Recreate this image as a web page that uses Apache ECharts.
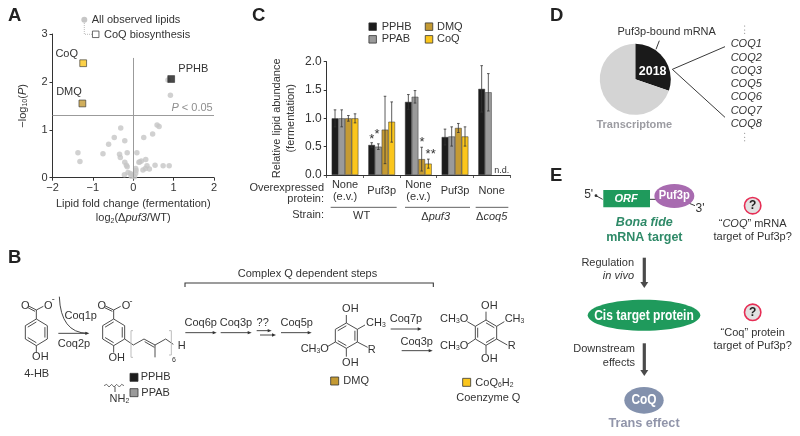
<!DOCTYPE html>
<html><head><meta charset="utf-8"><style>html,body{margin:0;padding:0;background:#fff}#c{width:800px;height:436px}</style>
<script src="https://cdn.jsdelivr.net/npm/echarts@6/dist/echarts.min.js"></script></head>
<body><div id="c"></div>
<script>
// ---- Panel A data: [log2 fold change, -log10 P]
const observedLipids=[[0.92,1.72],[0.86,2.04],[-0.31,1.04],[-0.47,0.84],[-0.61,0.70],[-0.21,0.77],[-1.37,0.52],[-1.32,0.34],[-0.75,0.50],[-0.34,0.49],[-0.32,0.42],[-0.15,0.52],[0.09,0.52],[0.26,0.84],[0.48,0.91],[0.59,1.10],[0.64,1.07],[0.31,0.38],[0.16,0.33],[0.20,0.35],[-0.21,0.32],[-0.17,0.26],[-0.15,0.23],[0.54,0.26],[0.74,0.25],[0.89,0.25],[0.34,0.25],[0.30,0.19],[0.40,0.18],[0.24,0.16],[0.06,0.19],[0.07,0.15],[-0.22,0.06],[-0.13,0.11],[-0.07,0.09],[-0.01,0.06],[0.03,0.02],[-0.05,0.03],[0.06,0.09],[0.14,0.32]];
const coqPoint=[-1.24,2.39], dmqPoint=[-1.26,1.55], pphbPoint=[0.94,2.06];
const significanceLine=1.3;
// ---- Panel C data
const strainCategories=['None\n(e.v.)','Puf3p','None\n(e.v.)','Puf3p','None'];
const seriesNames=['PPHB','PPAB','DMQ','CoQ'];
const pphb=[1.00,0.53,1.29,0.67,1.52], pphbLow=[0.85,0.49,1.16,0.53,1.11], pphbHigh=[1.15,0.57,1.42,0.81,1.93];
const ppab=[1.00,0.50,1.38,0.68,1.46], ppabLow=[0.85,0.45,1.27,0.51,1.13], ppabHigh=[1.15,0.55,1.49,0.85,1.79];
const dmq =[1.00,0.80,0.28,0.83,null], dmqLow =[0.95,0.20,0.07,0.75,null], dmqHigh =[1.05,1.39,0.49,0.91,null];
const coq =[1.00,0.94,0.20,0.68,null], coqLow =[0.92,0.58,0.12,0.51,null], coqHigh =[1.08,1.29,0.28,0.85,null];
// ---- Panel D data
const puf3Bound=2018, otherTranscripts=4650;
const coqGenes=['COQ1','COQ2','COQ3','COQ5','COQ6','COQ7','COQ8'];

const FONT='"Liberation Sans",Arial,sans-serif', INK='#333333';
const colors={PPHB:'#1c1c1c',PPAB:'#9a9a9a',DMQ:'#c49a33',CoQ:'#fbc61c',pts:'#c6c6c6',green:'#1f9a5c',greenText:'#2f8a68',purple:'#a86bb0',slate:'#8391ad',slateText:'#9195aa',red:'#e62e55'};
const richFor=(size,fill,w)=>({
  i:{fontStyle:'italic',fontSize:size,fontFamily:FONT,fill,color:fill,fontWeight:w||'normal'},
  s:{fontSize:size*0.62,fontFamily:FONT,fill,color:fill,verticalAlign:'bottom',padding:[4,0,0,0]},
  g:{fontSize:size,fontFamily:FONT,fill,color:fill}
});
const T=(p,text,o={})=>{const size=o.size||11,fill=o.fill||INK;return {type:'text',silent:true,x:p[0],y:p[1],rotation:o.rot||0,scaleX:o.sx||1,z:20,
  style:{text:String(text),fontSize:size,fontFamily:FONT,fontWeight:o.w||'normal',fontStyle:o.it?'italic':'normal',fill,align:o.align||'center',verticalAlign:'middle',rich:richFor(size,fill,o.w)}}};
const L=(pts,o={})=>({type:'polyline',silent:true,z:o.z||10,shape:{points:pts},style:{stroke:o.c||'#3a3a3a',lineWidth:o.lw||0.9,fill:null,lineDash:o.dash||null}});
const Sq=(p,s,fill,st)=>({type:'rect',silent:true,z:15,shape:{x:p[0]-s/2,y:p[1]-s/2,width:s,height:s},style:{fill,stroke:st||'#333',lineWidth:0.8}});
const Arrow=(p,q,o={})=>{const c=o.c||'#333',h=o.h||4,w=o.hw||1.7;return [L([p,[q[0]-h+1,q[1]]],{c,lw:o.lw||0.9}),{type:'polygon',silent:true,z:12,shape:{points:[[q[0],q[1]],[q[0]-h,q[1]-w],[q[0]-h,q[1]+w]]},style:{fill:c}}]};
const DownArrow=(x,y1,y2)=>[L([[x,y1],[x,y2-5]],{c:'#4a4a4a',lw:3.2}),{type:'polygon',silent:true,z:12,shape:{points:[[x,y2],[x-4,y2-6],[x+4,y2-6]]},style:{fill:'#4a4a4a'}}];
const El=(p,rx,ry,fill)=>({type:'ellipse',silent:true,z:14,shape:{cx:p[0],cy:p[1],rx,ry},style:{fill}});
const mapA=(x,y)=>[x/3,y/3], mapC=(x,y)=>[240+x/3,y/3], mapB=(x,y)=>[x/3,240+y/3], mapB2=(x,y)=>[270+x/3,240+y/3], mapD=(x,y)=>[530+x/3,y/3], mapE=(x,y)=>[530+x/3,170+y/3];

function ring(map,v,dbl){ // v: 6 zoom-space vertices; dbl: indices of inner double bonds
  const pts=v.map(p=>map(p[0],p[1]));const out=[L([...pts,pts[0]])];
  const cx=pts.reduce((a,p)=>a+p[0],0)/6,cy=pts.reduce((a,p)=>a+p[1],0)/6;
  dbl.forEach(i=>{const a=pts[i],b=pts[(i+1)%6];const k=0.78;
    const ia=[cx+(a[0]-cx)*k,cy+(a[1]-cy)*k],ib=[cx+(b[0]-cx)*k,cy+(b[1]-cy)*k];out.push(L([ia,ib]));});
  return out;
}
const seg=(map,a,b,o)=>L([map(a[0],a[1]),map(b[0],b[1])],o);
const els=[];
const add=(...x)=>x.forEach(e=>Array.isArray(e)?els.push(...e):els.push(e));

// panel letters
[['A',[8,16]],['B',[8,258]],['C',[252,16]],['D',[550,16]],['E',[550,176]]].forEach(([t,p])=>add(T(p,t,{size:18.5,w:'bold',align:'left',fill:'#222'})));

// ---- A annotations
add({type:'circle',silent:true,z:15,shape:{cx:84.3,cy:19.7,r:3},style:{fill:colors.pts}});
add(L([[84.3,23],[84.3,34.3],[92,34.3]],{c:'#aaa',lw:0.8,dash:[1,1]}));
add(Sq([95.7,34.3],6.5,'#fff','#444'));
add(T([91.7,20],'All observed lipids',{align:'left'}),T([104,34.8],'CoQ biosynthesis',{align:'left'}));
add(T([66.7,54],'CoQ'),T([69,92],'DMQ'),T([193.3,69],'PPHB'));
add(T([212.7,107.5],'{i|P} < 0.05',{align:'right',fill:'#8e8e8e'}));

// ---- C annotations
add(Sq(mapC(398,80),7.5,colors.PPHB),Sq(mapC(398,118),7.5,colors.PPAB),Sq(mapC(567,80),7.5,colors.DMQ),Sq(mapC(567,118),7.5,colors.CoQ));
add(T(mapC(425,80),'PPHB',{align:'left'}),T(mapC(425,118),'PPAB',{align:'left'}),T(mapC(591,80),'DMQ',{align:'left'}),T(mapC(591,118),'CoQ',{align:'left'}));
add(T(mapC(252,565),'Overexpressed',{align:'right'}),T(mapC(252,597),'protein:',{align:'right'}),T(mapC(252,646),'Strain:',{align:'right'}));
add(L([mapC(272,622),mapC(470,622)],{lw:0.8}),L([mapC(495,622),mapC(690,622)],{lw:0.8}),L([mapC(707,622),mapC(805,622)],{lw:0.8}));
add(T(mapC(365,648),'WT'),T(mapC(587,650),'Δ{i|puf3}'),T(mapC(755,650),'Δ{i|coq5}'));
add(T(mapC(395,418),'*',{size:13}),T(mapC(411,402),'*',{size:13}),T(mapC(546,428),'*',{size:13}),T(mapC(572,464),'**',{size:13}));
add(T(mapC(785,511),'n.d.',{size:9}));

// ---- D annotations
add(T(mapD(410,97),'Puf3p-bound mRNA'));
add(seg(mapD,[388,122],[378,148],{lw:1}));
add(T(mapD(368,214),puf3Bound,{size:12.5,w:'bold',fill:'#fff'}));
add(L([mapD(585,140),mapD(427,208),mapD(585,352)],{lw:1}));
coqGenes.forEach((g,i)=>add(T(mapD(602,133+39.8*i),g,{it:true,align:'left'})));
[[78,90,100],[400,412,422]].forEach(ys=>ys.forEach(y=>add({type:'circle',silent:true,shape:{cx:mapD(644,y)[0],cy:mapD(644,y)[1],r:0.5},style:{fill:'#666'}})));
add(T(mapD(313,376),'Transcriptome',{w:'bold',fill:'#9c9ca2'}));

// ---- E diagram
add({type:'rect',silent:true,z:14,shape:{x:603.3,y:190,width:46.7,height:17.3},style:{fill:colors.green}});
add(T(mapE(288,86),'ORF',{it:true,w:'bold',fill:'#fff'}));
add(seg(mapE,[360,88],[380,88],{lw:1}));
add(El(mapE(433,78),20,12,colors.purple));
add(T(mapE(433,77),'Puf3p',{w:'bold',size:13.5,sx:0.83,fill:'#fff'}));
add(T(mapE(176,75),"5'",{size:12}),T(mapE(510,116),"3'",{size:12}));
add(seg(mapE,[198,77],[218,88],{lw:1}),seg(mapE,[478,100],[495,107],{lw:1}));
add({type:'circle',silent:true,z:12,shape:{cx:mapE(198,77)[0],cy:mapE(198,77)[1],r:1.4},style:{fill:'#333'}});
add(T(mapE(343,158),'Bona fide',{it:true,w:'bold',size:12.5,fill:colors.greenText}));
add(T(mapE(343,204),'mRNA target',{w:'bold',size:12.5,fill:colors.greenText}));
add(T(mapE(312,279),'Regulation',{align:'right'}),T(mapE(312,318),'in vivo',{align:'right',it:true}));
add(DownArrow(644.3,257.7,288));
add(El(mapE(342,436),56.3,15.5,colors.green));
add(T(mapE(342,437),'Cis target protein',{w:'bold',size:14.5,sx:0.83,fill:'#fff'}));
add(T(mapE(315,538),'Downstream',{align:'right'}),T(mapE(315,578),'effects',{align:'right'}));
add(DownArrow(644.3,343.3,376));
add(El(mapE(342,691),19.7,13.3,colors.slate));
add(T(mapE(342,690),'CoQ',{w:'bold',size:14,sx:0.85,fill:'#fff'}));
add(T(mapE(342,760),'Trans effect',{w:'bold',size:12.7,fill:colors.slateText}));
[[668,107],[668,427]].forEach(([x,y])=>{const p=mapE(x,y);
  add({type:'circle',silent:true,z:14,shape:{cx:p[0],cy:p[1],r:8.2},style:{fill:'#e2e2e2',stroke:colors.red,lineWidth:1.6}});
  add(T(p,'?',{w:'bold',size:12,fill:'#222'}));});
add(T(mapE(668,162),'“{i|COQ}” mRNA'),T(mapE(668,201),'target of Puf3p?'));
add(T(mapE(668,489),'“Coq” protein'),T(mapE(668,528),'target of Puf3p?'));

// ---- B pathway
const hexAt=(cx,cy,rx,top)=>[[cx,cy-top],[cx+rx,cy-top/2],[cx+rx,cy+top/2],[cx,cy+top],[cx-rx,cy+top/2],[cx-rx,cy-top/2]];
// 4-HB
add(ring(mapB,hexAt(109,277,33,40),[1,3,5]));
add(seg(mapB,[109,237],[109,210]),seg(mapB,[109,210],[130,199]),seg(mapB,[109,210],[86,198]),seg(mapB,[105,214],[84,203]),seg(mapB,[109,317],[109,338]));
add(T(mapB(76,197),'O'),T(mapB(145,197),'O'),T(mapB(160,180),'-',{size:9}),T(mapB(121,352),'OH'),T(mapB(110,402),'4-HB'));
add({type:'bezierCurve',silent:true,z:10,shape:{x1:mapB(178,170)[0],y1:mapB(178,170)[1],x2:mapB(262,280)[0],y2:mapB(262,280)[1],cpx1:mapB(182,278)[0],cpy1:mapB(182,278)[1]},style:{stroke:'#333',lineWidth:0.9,fill:null}});
add(Arrow(mapB(175,280),mapB(268,280)));
add(T(mapB(242,228),'Coq1p'),T(mapB(222,313),'Coq2p'));
// PPHB / PPAB intermediate
add(ring(mapB,hexAt(341,277,33,40),[1,3,5]));
add(seg(mapB,[341,237],[341,210]),seg(mapB,[341,210],[362,199]),seg(mapB,[341,210],[316,198]),seg(mapB,[337,214],[314,203]),seg(mapB,[341,317],[341,338]));
add(T(mapB(305,197),'O'),T(mapB(378,197),'O'),T(mapB(393,184),'-',{size:9}),T(mapB(350,355),'OH'));
add(L([mapB(374,297),mapB(400,315),mapB(432,297),mapB(465,315),mapB(497,297),mapB(520,313)]),seg(mapB,[434,305],[463,322]),seg(mapB,[465,315],[465,352]));
add(L([mapB(399,272),mapB(393,272),mapB(393,352),mapB(399,352)],{c:'#bdbdbd',lw:1}),L([mapB(507,272),mapB(514,272),mapB(514,345),mapB(507,345)],{c:'#bdbdbd',lw:1}));
add(T(mapB(545,317),'H'),T(mapB(522,361),'6',{size:7}));
add(Sq(mapB(402,412),8,colors.PPHB),Sq(mapB(402,458),8,colors.PPAB));
add(T(mapB(422,412),'PPHB',{align:'left'}),T(mapB(424,458),'PPAB',{align:'left'}));
add(L([[312,437],[320,433],[327,441],[335,433],[342,441],[350,433],[358,441],[365,433],[372,437]].map(p=>mapB(p[0],p[1])),{lw:0.7}),seg(mapB,[345,440],[345,456]));
add(T(mapB(358,477),'NH{s|2}'));
// bracket
add(L([mapB(555,141),mapB(555,129),mapB2(490,129),mapB2(490,141)],{lw:1.1}));
add(T([307.5,273.5],'Complex Q dependent steps'));
// step arrows
add(Arrow(mapB(556,278),mapB(650,278)),Arrow(mapB(662,278),mapB(755,278)));
add(T(mapB(602,248),'Coq6p'),T(mapB(708,248),'Coq3p'),T(mapB(788,248),'??'));
add(Arrow(mapB(770,272),mapB2(5,272)),Arrow(mapB(780,285),mapB2(18,285)));
add(Arrow(mapB2(33,278),mapB2(125,278)),T(mapB2(80,248),'Coq5p'));
// DMQ
add(ring(mapB2,hexAt(229,287,33,38),[1,3,5]));
add(seg(mapB2,[229,249],[229,225]),seg(mapB2,[229,325],[229,350]),seg(mapB2,[262,268],[285,255]),seg(mapB2,[262,306],[293,322]),seg(mapB2,[196,306],[172,320]));
add(T(mapB2(241,207),'OH'),T(mapB2(241,368),'OH'),T(mapB2(288,250),'CH{s|3}',{align:'left'}),T(mapB2(305,330),'R'),T(mapB2(92,328),'CH{s|3}O',{align:'left'}));
add(Sq(mapB2(194,423),8,colors.DMQ),T(mapB2(220,423),'DMQ',{align:'left'}));
add(Arrow(mapB2(362,267),mapB2(455,267)),T(mapB2(408,238),'Coq7p'));
add(Arrow(mapB2(395,332),mapB2(488,332)),T(mapB2(440,305),'Coq3p'));
// CoQ
add(ring(mapB2,hexAt(648,278,32,38),[0,2,4]));
add(seg(mapB2,[648,240],[648,215]),seg(mapB2,[648,316],[648,342]),seg(mapB2,[680,259],[703,245]),seg(mapB2,[680,297],[712,315]),seg(mapB2,[616,259],[592,245]),seg(mapB2,[616,297],[592,313]));
add(T(mapB2(658,197),'OH'),T(mapB2(658,358),'OH'),T(mapB2(704,238),'CH{s|3}',{align:'left'}),T(mapB2(725,318),'R'),T(mapB2(510,238),'CH{s|3}O',{align:'left'}),T(mapB2(510,318),'CH{s|3}O',{align:'left'}));
add(Sq(mapB2(590,427),8,colors.CoQ),T(mapB2(616,428),'CoQ{s|6}H{s|2}',{align:'left'}),T(mapB2(655,475),'Coenzyme Q'));

// ---- chart
const chart=echarts.init(document.getElementById('c'),null,{renderer:'canvas'});
const axisBase={axisLine:{show:true,onZero:false,lineStyle:{color:'#333',width:1}},axisTick:{show:true,inside:false,length:3,lineStyle:{color:'#333',width:1}},splitLine:{show:false},axisLabel:{show:true,color:INK,fontFamily:FONT,fontSize:11}};
const minus=v=>String(v).replace('-','−');
const nameRich={i:{fontStyle:'italic',fontFamily:FONT,fontSize:11,color:INK},s:{fontSize:7,fontFamily:FONT,color:INK,verticalAlign:'bottom',padding:[4,0,0,0]}};
const bar=(name,vals,color)=>({name,type:'bar',xAxisIndex:1,yAxisIndex:1,data:vals,barWidth:6.67,barGap:0,itemStyle:{color,borderColor:'#333',borderWidth:0.5}});
const errs=(idx,vals,lows,highs)=>({type:'custom',xAxisIndex:1,yAxisIndex:1,silent:true,z:5,
  data:vals.map((v,i)=>v==null?null:[i,lows[i],highs[i]]).filter(Boolean),
  encode:{x:0,y:[1,2]},
  renderItem(params,api){
    const i=api.value(0),dx=(idx-1.5)*6.67,lo=api.coord([i,api.value(1)]),hi=api.coord([i,api.value(2)]),x=lo[0]+dx,c=1.3;
    const line=(a,b,d,e)=>({type:'line',shape:{x1:a,y1:b,x2:d,y2:e},style:{stroke:'#333',lineWidth:0.8}});
    return {type:'group',children:[line(x,lo[1],x,hi[1]),line(x-c,lo[1],x+c,lo[1]),line(x-c,hi[1],x+c,hi[1])]};
  }});
chart.setOption({
  animation:false,backgroundColor:'#fff',
  grid:[{left:52.5,top:34,width:161.5,height:143.7},{left:326.7,top:61.7,width:183.3,height:113.3}],
  xAxis:[
    Object.assign({},axisBase,{gridIndex:0,type:'value',min:-2,max:2,interval:1,
      axisLabel:Object.assign({},axisBase.axisLabel,{formatter:minus,margin:5}),
      name:'Lipid fold change (fermentation)\nlog{s|2}(Δ{i|puf3}/WT)',nameLocation:'middle',nameGap:20,
      nameTextStyle:{color:INK,fontFamily:FONT,fontSize:11,lineHeight:13.5,rich:nameRich}}),
    Object.assign({},axisBase,{gridIndex:1,type:'category',data:strainCategories,boundaryGap:true,
      axisTick:{show:true,inside:false,length:3,alignWithLabel:false,lineStyle:{color:'#333',width:0.8}},
      axisLabel:Object.assign({},axisBase.axisLabel,{interval:0,lineHeight:12,margin:16,verticalAlign:'middle'})})
  ],
  yAxis:[
    Object.assign({},axisBase,{gridIndex:0,type:'value',min:0,max:3,interval:1,
      axisLabel:Object.assign({},axisBase.axisLabel,{margin:5}),
      name:'−log{s|10}({i|P})',nameLocation:'middle',nameRotate:90,nameGap:24,
      nameTextStyle:{color:INK,fontFamily:FONT,fontSize:11,rich:nameRich}}),
    Object.assign({},axisBase,{gridIndex:1,type:'value',min:0,max:2,interval:0.5,
      axisLabel:Object.assign({},axisBase.axisLabel,{margin:5,fontSize:12,formatter:v=>v.toFixed(1)}),
      name:'Relative lipid abundance\n(fermentation)',nameLocation:'middle',nameRotate:90,nameGap:29,
      nameTextStyle:{color:INK,fontFamily:FONT,fontSize:11,lineHeight:14}})
  ],
  series:[
    {name:'All observed lipids',type:'scatter',xAxisIndex:0,yAxisIndex:0,data:observedLipids,symbolSize:5.5,itemStyle:{color:colors.pts},
      markLine:{silent:true,symbol:'none',label:{show:false},lineStyle:{color:'#9b9b9b',width:1,type:'solid'},
        data:[{yAxis:significanceLine},[{coord:[0,0]},{coord:[0,2.5]}]]}},
    ...[['CoQ',coqPoint,colors.CoQ],['DMQ',dmqPoint,colors.DMQ],['PPHB',pphbPoint,colors.PPHB]].map(([name,pt,color])=>({name,type:'scatter',xAxisIndex:0,yAxisIndex:0,z:4,data:[pt],symbol:'rect',symbolSize:6.8,itemStyle:{color,borderColor:'#333',borderWidth:0.8}})),
    bar(seriesNames[0],pphb,colors.PPHB),bar(seriesNames[1],ppab,colors.PPAB),bar(seriesNames[2],dmq,colors.DMQ),bar(seriesNames[3],coq,colors.CoQ),
    errs(0,pphb,pphbLow,pphbHigh),errs(1,ppab,ppabLow,ppabHigh),errs(2,dmq,dmqLow,dmqHigh),errs(3,coq,coqLow,coqHigh),
    {name:'Transcriptome',type:'pie',center:[635.3,79.3],radius:[0,35.5],startAngle:90,clockwise:true,silent:true,label:{show:false},labelLine:{show:false},
      data:[{name:'Puf3p-bound mRNA',value:puf3Bound,itemStyle:{color:'#1a1a1a'}},{name:'Transcriptome',value:otherTranscripts,itemStyle:{color:'#d4d4d4'}}]}
  ],
  graphic:{elements:els}
});
</script></body></html>
